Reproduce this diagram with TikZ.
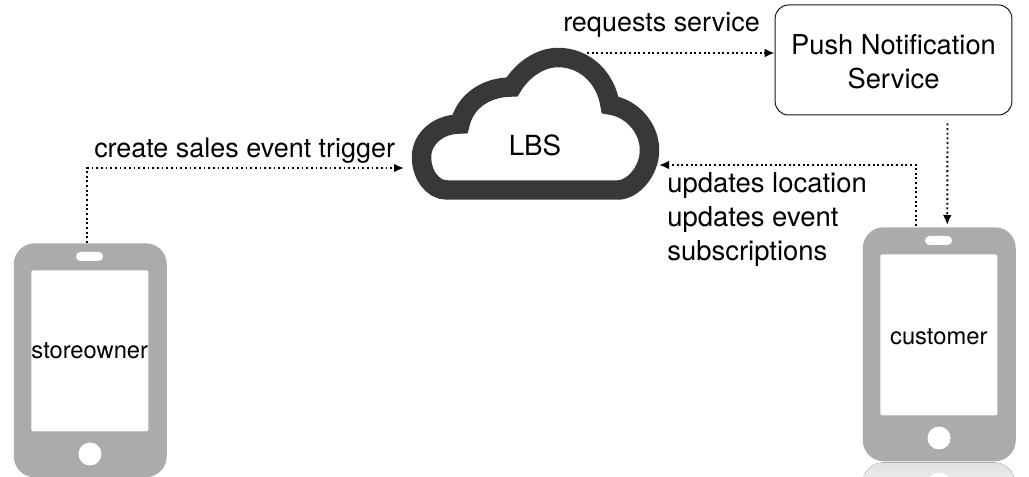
\documentclass[tikz,border=0pt]{standalone}
\usepackage{fontspec}
\setmainfont{TeX Gyre Heros}
\usetikzlibrary{arrows.meta,calc}
\definecolor{phonegray}{HTML}{ABABAB}
\definecolor{cloudgray}{HTML}{383838}
\tikzset{
  x=0.75pt,y=-0.75pt,
  phone/.style={fill=phonegray,rounded corners=21pt*0.75,minimum width=114.75pt,minimum height=175.5pt,inner sep=0pt,anchor=north west},
  screen/.style={fill=white,rounded corners=1.5pt,minimum width=87.75pt,minimum height=120.75pt,inner sep=0pt,anchor=north west,text=black,font=\fontsize{17.8}{21}\selectfont},
  speaker/.style={fill=white,rounded corners=3.3pt,minimum width=20.25pt,minimum height=6.75pt,inner sep=0pt},
  homekey/.style={fill=white,circle,minimum size=17.25pt,inner sep=0pt},
  label/.style={font=\fontsize{20.2}{25}\selectfont,align=left,anchor=west,inner sep=0pt},
  flowline/.style={black,line width=1.4pt,line cap=butt,dash pattern=on 1.4pt off 2.1pt},
  tip/.style={-{Latex[length=7.5pt,width=6.5pt]}},
}
\begin{document}
\begin{tikzpicture}
\useasboundingbox (0,0) rectangle (1029,477);
\clip (0,0) rectangle (1029,477);
% reflection of the right phone
\fill[top color=black!12,bottom color=black!1,rounded corners=15.75pt] (862.5,462.5) rectangle (1015,505);
\fill[white] (939,484) circle[radius=11.5];
% left phone
\node[phone] (phoneL) at (13.5,243) {};
\node[screen] (storeowner) at (31,270) {\raisebox{1pt}{storeowner}};
\node[speaker] (spkL) at (89.5,256.5) {};
\node[homekey] (homeL) at (90,454) {};
% right phone
\node[phone] (phoneR) at (862.5,227) {};
\node[screen] (customer) at (880,254) {\rule{0pt}{15pt}customer};
\node[speaker] (spkR) at (938.5,240.5) {};
\node[homekey] (homeR) at (939,438) {};
% cloud
\draw[cloudgray,line width=14.6pt,miter limit=10,line join=miter]
  (447,190) .. controls (432,190) and (421.5,174) .. (421.5,157)
  .. controls (421.5,139) and (438,124) .. (460,124)
  .. controls (464,105) and (482,87) .. (512,87)
  .. controls (522,70) and (540,57.5) .. (558,57.5)
  .. controls (585,57.5) and (606,78) .. (610,105)
  .. controls (632,108) and (649.5,128) .. (649.5,150)
  .. controls (649.5,172) and (632,190) .. (618,190) -- cycle;
\node[font=\fontsize{20.8}{24}\selectfont,inner sep=0pt] (cloud) at (535,145) {LBS};
% service
\node[draw=black!90,line width=0.75pt,fill=white,rounded corners=10pt,minimum width=177.5pt,minimum height=82.5pt,inner sep=0pt,align=center,font=\fontsize{20.5}{25.5}\selectfont] (service) at (893.5,60) {\rule{0pt}{18pt}Push Notification\\Service};
% labels
\node[label] (lCreate) at (94,151) {create sales event trigger};
\node[label] (lRequests) at (563,25) {requests service};
\node[label,font=\fontsize{20.6}{25.5}\selectfont] (lUpdates) at (667,219) {updates location\\updates event\\subscriptions};
% connector ends
\coordinate (aOut) at ($(phoneL.north)+(-3,0)$);
\coordinate (aIn) at ($(cloud)+(-131,23)$);
\coordinate (bOut) at ($(cloud)+(52,-92)$);
\coordinate (bIn) at ($(service.west)+(0,-7)$);
\coordinate (cOut) at ($(service.south)+(54,8)$);
\coordinate (cIn) at ($(phoneR.north)+(8,-2)$);
\coordinate (dOut) at ($(phoneR.north)+(-23,-1)$);
\coordinate (dIn) at ($(cloud)+(124,20)$);
\draw[flowline,tip] (aOut) |- (aIn);
\draw[flowline,tip] (bOut) -- (bIn);
\draw[flowline,tip] (cOut) -- (cIn);
\draw[flowline,tip] (dOut) |- (dIn);
\end{tikzpicture}
\end{document}
